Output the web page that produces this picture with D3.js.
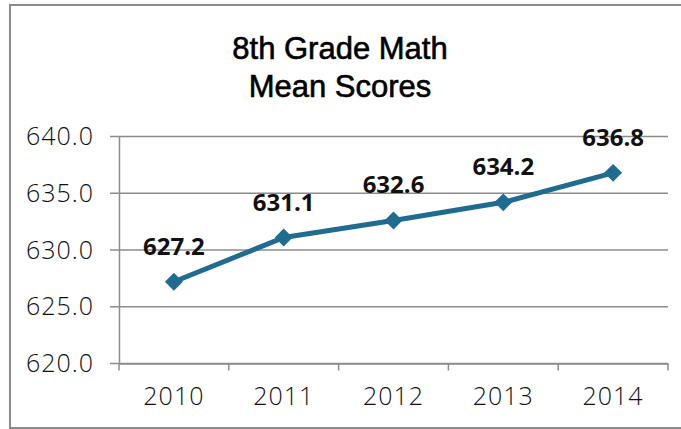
<!DOCTYPE html>
<html>
<head>
<meta charset="utf-8">
<script src="https://cdn.jsdelivr.net/npm/d3@7"></script>
<style>
  body { margin: 0; background: #fff; }
  svg { display: block; }
</style>
</head>
<body>
<div id="chart"></div>
<script>
// data
var years = ["2010", "2011", "2012", "2013", "2014"];
var scores = [627.2, 631.1, 632.6, 634.2, 636.8];
var yTicks = [620, 625, 630, 635, 640];
var titleLines = ["8th Grade Math", "Mean Scores"];

var W = 681, H = 429;
var margin = { left: 119, right: 13, top: 136.5, bottom: 65.5 };

var svg = d3.select("#chart").append("svg")
    .attr("width", W)
    .attr("height", H);

// outer chart border (open on the right, runs off the picture)
svg.append("rect")
    .attr("x", 10).attr("y", 5)
    .attr("width", W + 10).attr("height", 423)
    .attr("fill", "none")
    .attr("stroke", "#8c8c8c")
    .attr("stroke-width", 2);

// title
svg.append("text")
    .attr("x", 340).attr("y", 59)
    .attr("text-anchor", "middle")
    .attr("font-family", "Liberation Sans, Arial, sans-serif")
    .attr("font-size", 31)
    .attr("fill", "#000")
    .attr("stroke", "#000")
    .attr("stroke-width", 0.6)
    .selectAll("tspan")
    .data(titleLines)
    .enter().append("tspan")
    .attr("x", 340)
    .attr("dy", (d, i) => i === 0 ? 0 : 38)
    .text(d => d);

var x = d3.scaleBand().domain(years).range([margin.left, W - margin.right]);
var y = d3.scaleLinear().domain([620, 640]).range([H - margin.bottom, margin.top]);

// gridlines
svg.append("g")
    .selectAll("line")
    .data(yTicks)
    .enter().append("line")
    .attr("x1", margin.left - 9)
    .attr("x2", W - margin.right)
    .attr("y1", d => y(d))
    .attr("y2", d => y(d))
    .attr("stroke", "#8c8c8c")
    .attr("stroke-width", 1.5);

var axisFont = function (sel) {
    sel.attr("font-family", "Open Sans, sans-serif")
        .attr("font-size", 25)
        .attr("font-weight", 350)
        .attr("letter-spacing", 1)
        .attr("fill", "#111");
};

// y axis
var yAxis = svg.append("g")
    .attr("transform", "translate(" + margin.left + ",0)")
    .call(d3.axisLeft(y).tickValues(yTicks).tickSize(0).tickPadding(25).tickFormat(d3.format(".1f")));
yAxis.select(".domain").attr("stroke", "#8c8c8c").attr("stroke-width", 1.5);
yAxis.selectAll("text").call(axisFont);

// x axis
var xAxis = svg.append("g")
    .attr("transform", "translate(0," + y(620) + ")")
    .call(d3.axisBottom(x).tickSize(0).tickPadding(24));
xAxis.select(".domain").attr("stroke", "#8c8c8c").attr("stroke-width", 1.5);
xAxis.selectAll("text").call(axisFont);

// category tick marks sit between the bands
var edges = years.map(d => x(d)).concat([x.range()[1]]);
svg.append("g")
    .selectAll("line")
    .data(edges)
    .enter().append("line")
    .attr("x1", d => d).attr("x2", d => d)
    .attr("y1", y(620)).attr("y2", y(620) + 7)
    .attr("stroke", "#8c8c8c")
    .attr("stroke-width", 1.5);

var cx = d => x(d) + x.bandwidth() / 2;
var color = "#1f6b91";

var line = d3.line()
    .x((d, i) => cx(years[i]))
    .y(d => y(d));

svg.append("path")
    .datum(scores)
    .attr("d", line)
    .attr("fill", "none")
    .attr("stroke", color)
    .attr("stroke-width", 5)
    .attr("stroke-linejoin", "round");

svg.append("g")
    .selectAll("path")
    .data(scores)
    .enter().append("path")
    .attr("d", d3.symbol().type(d3.symbolSquare).size(160))
    .attr("transform", (d, i) => "translate(" + cx(years[i]) + "," + y(d) + ") rotate(45)")
    .attr("fill", color);

// data labels
svg.append("g")
    .selectAll("text")
    .data(scores)
    .enter().append("text")
    .attr("x", (d, i) => cx(years[i]))
    .attr("y", d => y(d) - 27)
    .attr("text-anchor", "middle")
    .attr("font-family", "Open Sans, sans-serif")
    .attr("font-weight", "bold")
    .attr("font-size", 24)
    .attr("fill", "#111")
    .text(d => d.toFixed(1));
</script>
</body>
</html>
